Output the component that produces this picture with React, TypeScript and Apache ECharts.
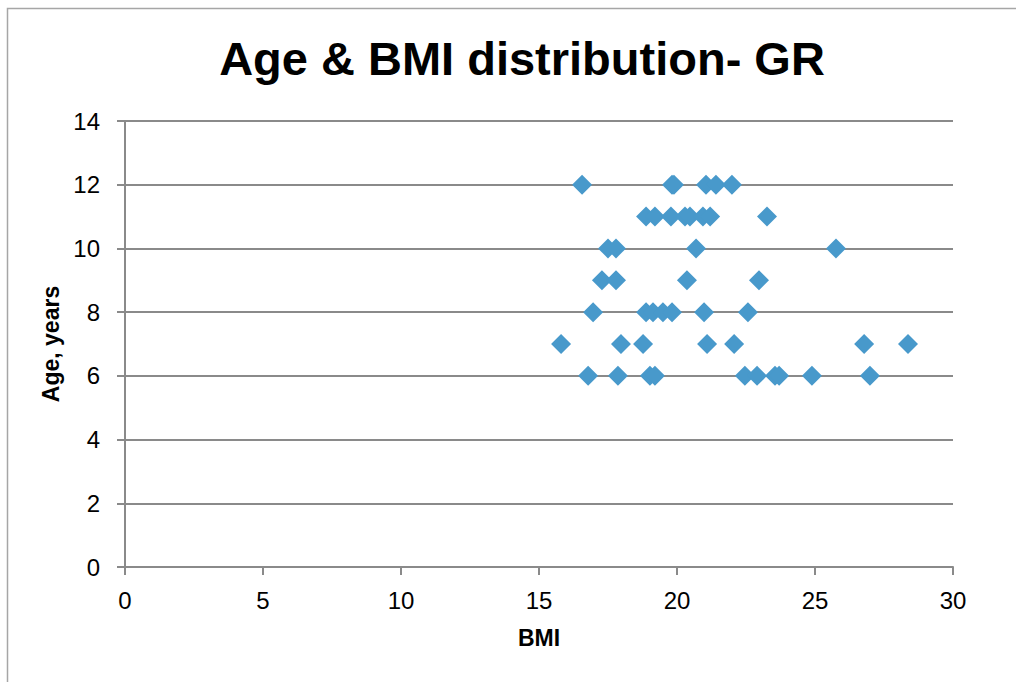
import React, { useEffect, useRef } from "react";
import * as echarts from "echarts";

// Age (years) for each child
const ages: number[] = [
  12, 12, 12, 12, 12, 12,
  11, 11, 11, 11, 11, 11, 11, 11,
  10, 10, 10, 10,
  9, 9, 9, 9,
  8, 8, 8, 8, 8, 8, 8,
  7, 7, 7, 7, 7, 7, 7,
  6, 6, 6, 6, 6, 6, 6, 6, 6, 6,
];

// BMI for each child (same order as ages)
const bmis: number[] = [
  16.56, 19.82, 19.89, 21.05, 21.41, 21.99,
  18.88, 19.2, 19.78, 20.29, 20.47, 20.94, 21.2, 23.26,
  17.5, 17.79, 20.69, 25.76,
  17.28, 17.79, 20.36, 22.97,
  16.96, 18.88, 19.13, 19.49, 19.82, 20.98, 22.57,
  15.8, 17.97, 18.77, 21.09, 22.07, 26.78, 28.37,
  16.78, 17.86, 19.02, 19.2, 22.46, 22.9, 23.55, 23.7, 24.89, 26.99,
];

const titleText = "Age & BMI distribution- GR";
const xAxisName = "BMI";
const yAxisName = "Age, years";

const FONT = "'Liberation Sans', Arial, sans-serif";
const GRID_COLOR = "#8a8a8a";

export default function App() {
  const ref = useRef<HTMLDivElement>(null);

  useEffect(() => {
    if (!ref.current) return;
    const chart = echarts.init(ref.current, null, { renderer: "svg" });
    const points = bmis.map((b, i) => [b, ages[i]]);

    chart.setOption({
      animation: false,
      backgroundColor: "#ffffff",
      textStyle: { fontFamily: FONT },
      title: {
        text: titleText,
        left: 517,
        top: 30,
        textAlign: "center",
        textStyle: {
          fontFamily: FONT,
          fontSize: 47,
          fontWeight: "bold",
          color: "#000000",
        },
      },
      graphic: [
        {
          type: "polyline",
          shape: { points: [[7.5, 682], [7.5, 8.5], [1016, 8.5]] },
          style: { stroke: "#a6a6a6", lineWidth: 1.5, fill: "none" },
          silent: true,
        },
      ],
      grid: { left: 125, right: 63, top: 121, bottom: 115, containLabel: false },
      xAxis: {
        type: "value",
        min: 0,
        max: 30,
        interval: 5,
        name: xAxisName,
        nameLocation: "middle",
        nameGap: 59,
        nameTextStyle: {
          fontFamily: FONT,
          fontSize: 23,
          fontWeight: "bold",
          color: "#000000",
        },
        axisLine: { show: true, lineStyle: { color: GRID_COLOR, width: 2 } },
        axisTick: { show: true, length: 8, lineStyle: { color: GRID_COLOR, width: 2 } },
        axisLabel: { fontFamily: FONT, fontSize: 24, color: "#000000", margin: 21 },
        splitLine: { show: false },
      },
      yAxis: {
        type: "value",
        min: 0,
        max: 14,
        interval: 2,
        name: yAxisName,
        nameLocation: "middle",
        nameGap: 63,
        nameRotate: 90,
        nameTextStyle: {
          fontFamily: FONT,
          fontSize: 23,
          fontWeight: "bold",
          color: "#000000",
        },
        axisLine: { show: true, lineStyle: { color: GRID_COLOR, width: 2 } },
        axisTick: { show: true, length: 8, lineStyle: { color: GRID_COLOR, width: 2 } },
        axisLabel: { fontFamily: FONT, fontSize: 24, color: "#000000", margin: 25 },
        splitLine: { show: true, lineStyle: { color: GRID_COLOR, width: 2 } },
      },
      series: [
        {
          type: "scatter",
          data: points,
          symbol: "diamond",
          symbolSize: 20,
          itemStyle: { color: "#4899cb", opacity: 1 },
          emphasis: { disabled: true },
        },
      ],
    });

    return () => chart.dispose();
  }, []);

  return (
    <div
      ref={ref}
      style={{ position: "absolute", left: 0, top: 0, width: 1016, height: 682 }}
    />
  );
}
